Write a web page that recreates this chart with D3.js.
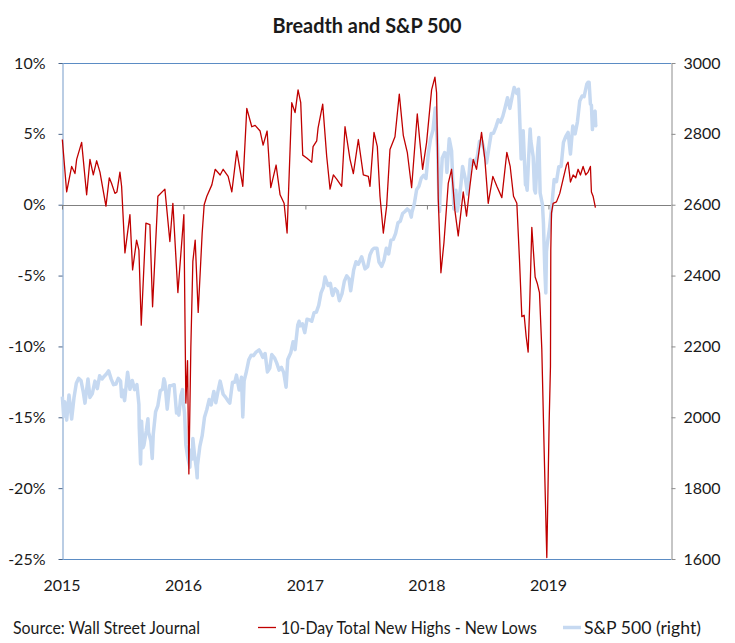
<!DOCTYPE html>
<html>
<head>
<meta charset="utf-8">
<script src="https://cdn.jsdelivr.net/npm/d3@7"></script>
<style>
  html, body { margin: 0; padding: 0; background: #fff; }
  svg { display: block; }
  text { font-family: Lato, "Open Sans", "Liberation Sans", sans-serif; fill: #1a1a1a; }
</style>
</head>
<body>
<svg id="chart" width="735" height="643"></svg>
<script>
// ---------------- DATA ----------------
const title = "Breadth and S&P 500";
const sourceText = "Source: Wall Street Journal";
const seriesNames = ["10-Day Total New Highs - New Lows", "S&P 500 (right)"];
const yearTicks = ["2015", "2016", "2017", "2018", "2019"];
const leftTicks = [-25, -20, -15, -10, -5, 0, 5, 10];            // percent
const rightTicks = [1600, 1800, 2000, 2200, 2400, 2600, 2800, 3000];

// 10-Day Total New Highs - New Lows (percent)
const breadth = [
  ["2015-01-02", 4.6], ["2015-01-15", 0.9], ["2015-01-30", 2.7], ["2015-02-09", 2.2],
  ["2015-02-14", 3.2], ["2015-03-01", 4.4], ["2015-03-16", 0.7], ["2015-03-26", 3.2],
  ["2015-04-05", 2.1], ["2015-04-15", 3.1], ["2015-04-25", 2.3], ["2015-05-13", -0.1],
  ["2015-05-23", 1.9], ["2015-05-30", 1.5], ["2015-06-09", 0.8], ["2015-06-15", 0.9],
  ["2015-06-24", 2.3], ["2015-06-29", 1.3], ["2015-07-09", -3.4], ["2015-07-24", -0.7],
  ["2015-08-01", -4.6], ["2015-08-13", -2.5], ["2015-08-20", -3.2], ["2015-08-27", -8.5],
  ["2015-09-10", -1.3], ["2015-09-22", -1.4], ["2015-09-30", -7.2], ["2015-10-16", 0.6],
  ["2015-11-06", 1.1], ["2015-11-21", -2.6], ["2015-11-30", 0.1], ["2015-12-15", -6.2],
  ["2016-01-02", -0.7], ["2016-01-08", -14.0], ["2016-01-13", -11.0], ["2016-01-17", -19.0],
  ["2016-01-23", -10.0], ["2016-01-29", -4.0], ["2016-02-05", -2.5], ["2016-02-14", -7.6],
  ["2016-02-26", -2.0], ["2016-03-03", 0.0], ["2016-03-11", 0.6], ["2016-03-26", 1.4],
  ["2016-04-05", 2.5], ["2016-04-20", 2.1], ["2016-04-29", 2.5], ["2016-05-14", 2.0],
  ["2016-05-25", 0.9], ["2016-06-09", 3.8], ["2016-06-27", 1.3], ["2016-07-09", 6.8],
  ["2016-07-24", 5.5], ["2016-08-03", 5.6], ["2016-08-18", 5.2], ["2016-08-27", 4.2],
  ["2016-09-08", 5.2], ["2016-09-19", 1.2], ["2016-10-05", 2.8], ["2016-10-17", 0.7],
  ["2016-10-29", 0.1], ["2016-11-07", -2.0], ["2016-11-21", 7.2], ["2016-12-01", 6.5],
  ["2016-12-10", 8.1], ["2016-12-18", 7.2], ["2016-12-24", 3.5], ["2017-01-05", 3.3],
  ["2017-01-20", 3.0], ["2017-01-24", 4.1], ["2017-02-04", 4.5], ["2017-02-08", 5.4],
  ["2017-02-22", 7.1], ["2017-03-06", 3.4], ["2017-03-16", 1.1], ["2017-03-26", 2.1],
  ["2017-04-05", 1.8], ["2017-04-20", 1.3], ["2017-04-30", 5.5], ["2017-05-15", 3.2],
  ["2017-05-25", 2.2], ["2017-06-09", 4.6], ["2017-06-24", 2.1], ["2017-07-09", 2.0],
  ["2017-07-14", 1.3], ["2017-07-26", 5.1], ["2017-08-05", 4.1], ["2017-08-13", 0.6],
  ["2017-08-23", -2.0], ["2017-09-02", -0.1], ["2017-09-12", 3.9], ["2017-09-27", 4.8],
  ["2017-10-10", 7.8], ["2017-10-22", 4.9], ["2017-11-03", 3.7], ["2017-11-16", 1.2],
  ["2017-12-03", 6.4], ["2017-12-11", 4.4], ["2017-12-19", 2.5], ["2017-12-31", 4.4],
  ["2018-01-15", 8.1], ["2018-01-25", 9.0], ["2018-01-30", 7.9], ["2018-02-04", 0.4],
  ["2018-02-12", -4.8], ["2018-02-21", -2.7], ["2018-03-06", 1.5], ["2018-03-16", 2.5],
  ["2018-03-26", -0.4], ["2018-04-05", -2.2], ["2018-04-20", 0.9], ["2018-04-30", -0.8],
  ["2018-05-10", 1.3], ["2018-05-20", 3.2], ["2018-05-30", 2.5], ["2018-06-14", 5.1],
  ["2018-06-24", 3.2], ["2018-07-04", 0.1], ["2018-07-18", 2.0], ["2018-07-30", 1.3],
  ["2018-08-14", 0.5], ["2018-08-29", 3.7], ["2018-09-08", 2.7], ["2018-09-18", 0.6],
  ["2018-09-28", 0.1], ["2018-10-06", -3.9], ["2018-10-10", -6.2], ["2018-10-13", -7.9],
  ["2018-10-20", -7.8], ["2018-10-26", -9.3], ["2018-11-01", -10.4], ["2018-11-06", -6.7],
  ["2018-11-12", -1.6], ["2018-11-22", -5.1], ["2018-11-29", -5.6], ["2018-12-05", -6.2],
  ["2018-12-12", -10.2], ["2018-12-19", -17.3], ["2018-12-27", -24.9], ["2019-01-03", -15.4],
  ["2019-01-07", -11.4], ["2019-01-08", -3.2], ["2019-01-10", -0.6], ["2019-01-15", 0.1],
  ["2019-01-25", 0.2], ["2019-02-04", 0.8], ["2019-02-14", 1.8], ["2019-02-24", 2.8],
  ["2019-03-01", 3.0], ["2019-03-08", 1.6], ["2019-03-16", 2.1], ["2019-03-24", 1.9],
  ["2019-03-31", 2.5], ["2019-04-07", 2.1], ["2019-04-15", 2.7], ["2019-04-23", 2.1],
  ["2019-04-30", 2.3], ["2019-05-07", 2.7], ["2019-05-10", 0.9], ["2019-05-15", 0.6],
  ["2019-05-22", -0.2]
];

// S&P 500 (right axis)
const sp500 = [
  ["2015-01-02", 2058], ["2015-01-06", 2003], ["2015-01-09", 2044], ["2015-01-15", 1992],
  ["2015-01-22", 2063], ["2015-01-30", 1995], ["2015-02-06", 2055], ["2015-02-13", 2096],
  ["2015-02-20", 2110], ["2015-02-27", 2104], ["2015-03-06", 2071], ["2015-03-11", 2040],
  ["2015-03-20", 2108], ["2015-03-26", 2056], ["2015-04-02", 2067], ["2015-04-10", 2102],
  ["2015-04-17", 2081], ["2015-04-24", 2117], ["2015-05-01", 2108], ["2015-05-08", 2116],
  ["2015-05-15", 2123], ["2015-05-21", 2131], ["2015-05-29", 2107], ["2015-06-05", 2092],
  ["2015-06-12", 2094], ["2015-06-19", 2110], ["2015-06-26", 2102], ["2015-06-29", 2058],
  ["2015-07-02", 2077], ["2015-07-08", 2047], ["2015-07-17", 2127], ["2015-07-24", 2079],
  ["2015-07-31", 2104], ["2015-08-07", 2078], ["2015-08-14", 2092], ["2015-08-20", 2036],
  ["2015-08-21", 1971], ["2015-08-25", 1868], ["2015-08-28", 1989], ["2015-09-01", 1914],
  ["2015-09-04", 1921], ["2015-09-11", 1961], ["2015-09-16", 1996], ["2015-09-18", 1958],
  ["2015-09-25", 1932], ["2015-09-29", 1884], ["2015-10-02", 1951], ["2015-10-09", 2015],
  ["2015-10-16", 2033], ["2015-10-23", 2075], ["2015-10-30", 2079], ["2015-11-03", 2109],
  ["2015-11-06", 2099], ["2015-11-13", 2023], ["2015-11-20", 2089], ["2015-11-27", 2090],
  ["2015-12-04", 2092], ["2015-12-11", 2012], ["2015-12-14", 2022], ["2015-12-18", 2006],
  ["2015-12-24", 2061], ["2015-12-29", 2078], ["2015-12-31", 2044],
  ["2016-01-04", 2012], ["2016-01-07", 1943], ["2016-01-08", 1922], ["2016-01-13", 1890],
  ["2016-01-15", 1880], ["2016-01-20", 1859], ["2016-01-22", 1907], ["2016-01-27", 1882],
  ["2016-01-29", 1940], ["2016-02-02", 1903], ["2016-02-05", 1880], ["2016-02-09", 1852],
  ["2016-02-11", 1829], ["2016-02-12", 1865], ["2016-02-19", 1918], ["2016-02-26", 1948],
  ["2016-03-04", 2000], ["2016-03-11", 2022], ["2016-03-18", 2050], ["2016-03-24", 2035],
  ["2016-04-01", 2073], ["2016-04-07", 2041], ["2016-04-15", 2081], ["2016-04-20", 2102],
  ["2016-04-29", 2065], ["2016-05-06", 2057], ["2016-05-13", 2047], ["2016-05-19", 2040],
  ["2016-05-27", 2099], ["2016-06-03", 2099], ["2016-06-08", 2119], ["2016-06-16", 2077],
  ["2016-06-23", 2113], ["2016-06-27", 2001], ["2016-07-01", 2103], ["2016-07-08", 2130],
  ["2016-07-15", 2162], ["2016-07-22", 2175], ["2016-07-29", 2174], ["2016-08-05", 2183],
  ["2016-08-15", 2190], ["2016-08-19", 2184], ["2016-08-26", 2169], ["2016-09-02", 2180],
  ["2016-09-09", 2128], ["2016-09-16", 2139], ["2016-09-22", 2177], ["2016-09-30", 2168],
  ["2016-10-07", 2153], ["2016-10-14", 2133], ["2016-10-21", 2141], ["2016-10-28", 2126],
  ["2016-11-04", 2085], ["2016-11-09", 2163], ["2016-11-18", 2182], ["2016-11-25", 2213],
  ["2016-12-01", 2191], ["2016-12-09", 2260], ["2016-12-13", 2271], ["2016-12-16", 2258],
  ["2016-12-23", 2264], ["2016-12-30", 2239],
  ["2017-01-06", 2277], ["2017-01-13", 2275], ["2017-01-20", 2271], ["2017-01-27", 2295],
  ["2017-02-03", 2297], ["2017-02-10", 2316], ["2017-02-17", 2351], ["2017-02-24", 2367],
  ["2017-03-01", 2396], ["2017-03-10", 2372], ["2017-03-17", 2378], ["2017-03-22", 2349],
  ["2017-03-24", 2344], ["2017-03-31", 2363], ["2017-04-07", 2356], ["2017-04-13", 2329],
  ["2017-04-21", 2349], ["2017-04-28", 2384], ["2017-05-05", 2399], ["2017-05-12", 2391],
  ["2017-05-17", 2357], ["2017-05-26", 2416], ["2017-06-02", 2439], ["2017-06-09", 2432],
  ["2017-06-19", 2453], ["2017-06-29", 2419], ["2017-07-07", 2425], ["2017-07-14", 2459],
  ["2017-07-21", 2473], ["2017-07-26", 2477], ["2017-08-04", 2477], ["2017-08-10", 2438],
  ["2017-08-18", 2426], ["2017-08-25", 2443], ["2017-09-01", 2477], ["2017-09-08", 2461],
  ["2017-09-15", 2500], ["2017-09-22", 2502], ["2017-09-29", 2519], ["2017-10-06", 2549],
  ["2017-10-13", 2553], ["2017-10-20", 2575], ["2017-10-27", 2581], ["2017-11-03", 2588],
  ["2017-11-10", 2582], ["2017-11-15", 2565], ["2017-11-17", 2579], ["2017-11-24", 2602],
  ["2017-12-01", 2642], ["2017-12-08", 2652], ["2017-12-15", 2675], ["2017-12-22", 2683],
  ["2017-12-29", 2674],
  ["2018-01-05", 2743], ["2018-01-12", 2786], ["2018-01-19", 2810], ["2018-01-26", 2873],
  ["2018-02-02", 2762], ["2018-02-05", 2649], ["2018-02-08", 2581], ["2018-02-09", 2620],
  ["2018-02-16", 2732], ["2018-02-23", 2747], ["2018-02-27", 2744], ["2018-03-02", 2691],
  ["2018-03-09", 2786], ["2018-03-16", 2752], ["2018-03-23", 2588], ["2018-03-29", 2641],
  ["2018-04-02", 2582], ["2018-04-06", 2604], ["2018-04-13", 2656], ["2018-04-18", 2708],
  ["2018-04-27", 2670], ["2018-05-03", 2630], ["2018-05-11", 2728], ["2018-05-18", 2713],
  ["2018-05-25", 2721], ["2018-06-01", 2735], ["2018-06-08", 2779], ["2018-06-15", 2780],
  ["2018-06-22", 2755], ["2018-06-29", 2718], ["2018-07-06", 2760], ["2018-07-13", 2801],
  ["2018-07-20", 2802], ["2018-07-27", 2819], ["2018-08-03", 2840], ["2018-08-10", 2833],
  ["2018-08-17", 2850], ["2018-08-24", 2875], ["2018-08-31", 2902], ["2018-09-07", 2872],
  ["2018-09-14", 2905], ["2018-09-20", 2931], ["2018-09-28", 2914], ["2018-10-03", 2926],
  ["2018-10-05", 2885], ["2018-10-11", 2729], ["2018-10-12", 2767], ["2018-10-17", 2809],
  ["2018-10-24", 2656], ["2018-10-26", 2659], ["2018-10-29", 2641], ["2018-11-02", 2723],
  ["2018-11-07", 2814], ["2018-11-09", 2781], ["2018-11-16", 2736], ["2018-11-20", 2642],
  ["2018-11-23", 2633], ["2018-11-30", 2760], ["2018-12-03", 2790], ["2018-12-07", 2633],
  ["2018-12-14", 2600], ["2018-12-17", 2546], ["2018-12-21", 2417], ["2018-12-24", 2351],
  ["2018-12-26", 2468], ["2018-12-28", 2486], ["2018-12-31", 2507],
  ["2019-01-04", 2532], ["2019-01-11", 2596], ["2019-01-18", 2671], ["2019-01-25", 2665],
  ["2019-02-01", 2707], ["2019-02-08", 2708], ["2019-02-15", 2776], ["2019-02-22", 2793],
  ["2019-03-01", 2804], ["2019-03-08", 2743], ["2019-03-15", 2822], ["2019-03-22", 2800],
  ["2019-03-29", 2834], ["2019-04-05", 2893], ["2019-04-12", 2907], ["2019-04-18", 2905],
  ["2019-04-26", 2940], ["2019-04-30", 2946], ["2019-05-03", 2946], ["2019-05-07", 2884],
  ["2019-05-10", 2881], ["2019-05-13", 2812], ["2019-05-17", 2860], ["2019-05-21", 2864],
  ["2019-05-23", 2823], ["2019-05-24", 2826]
];

// ---------------- CHART ----------------
const parse = d3.timeParse("%Y-%m-%d");
const svg = d3.select("#chart");
const m = { left: 62, right: 671, top: 63, bottom: 559 };

const x = d3.scaleTime()
  .domain([parse("2015-01-01"), parse("2020-01-01")])
  .range([m.left, m.right - 1]);
const yL = d3.scaleLinear().domain([-25, 10]).range([m.bottom, m.top]);
const yR = d3.scaleLinear().domain([1600, 3000]).range([m.bottom, m.top]);

// Title
svg.append("text")
  .attr("x", 367).attr("y", 33)
  .attr("text-anchor", "middle")
  .attr("font-size", 21).attr("font-weight", "bold")
  .attr("textLength", 189).attr("lengthAdjust", "spacingAndGlyphs")
  .attr("fill", "#000")
  .text(title);

// Top and bottom frame lines
svg.append("line").attr("x1", m.left).attr("x2", m.right).attr("y1", m.top + 0.5).attr("y2", m.top + 0.5)
  .attr("stroke", "#5b8cc4").attr("stroke-width", 1);
svg.append("line").attr("x1", m.left).attr("x2", m.right).attr("y1", m.bottom + 0.5).attr("y2", m.bottom + 0.5)
  .attr("stroke", "#5b8cc4").attr("stroke-width", 1);

// Left axis
const gL = svg.append("g").attr("transform", `translate(${m.left + 0.5},0)`)
  .call(d3.axisLeft(yL).tickValues(leftTicks).tickFormat(d => d + "%").tickSize(4).tickSizeOuter(0).tickPadding(13));
gL.select(".domain").attr("stroke", "#a3bcdb").attr("stroke-width", 1.5);
gL.selectAll(".tick line").attr("stroke", "#4a6488");
gL.selectAll(".tick text").attr("font-size", 16).attr("fill", "#1a1a1a");

// Right axis
const gR = svg.append("g").attr("transform", `translate(${m.right + 0.5},0)`)
  .call(d3.axisRight(yR).tickValues(rightTicks).tickFormat(d => d).tickSize(4).tickSizeOuter(0).tickPadding(8));
gR.select(".domain").attr("stroke", "#8c8c8c");
gR.selectAll(".tick line").attr("stroke", "#8c8c8c");
gR.selectAll(".tick text").attr("font-size", 16).attr("fill", "#1a1a1a");

// Zero line with year ticks
const yearDates = yearTicks.map(yv => parse(yv + "-01-01"));
const gZ = svg.append("g").attr("transform", `translate(0,${Math.round(yL(0)) + 0.5})`)
  .call(d3.axisBottom(x).tickValues(yearDates).tickFormat("").tickSize(4).tickSizeOuter(0));
gZ.select(".domain").attr("stroke", "#808080").attr("d", `M${m.left},0H${m.right}`);
gZ.selectAll(".tick line").attr("stroke", "#808080");

// Year labels at the bottom
svg.append("g").selectAll("text").data(yearDates).join("text")
  .attr("x", d => x(d)).attr("y", 591)
  .attr("text-anchor", "middle").attr("font-size", 16)
  .text((d, i) => yearTicks[i]);

// Lines
const spLine = d3.line().x(d => x(parse(d[0]))).y(d => yR(d[1]));
const brLine = d3.line().x(d => x(parse(d[0]))).y(d => yL(d[1]));

svg.append("path").datum(sp500).attr("d", spLine)
  .attr("fill", "none").attr("stroke", "#c6d9f1").attr("stroke-width", 3.5)
  .attr("stroke-linejoin", "round");
svg.append("path").datum(breadth).attr("d", brLine)
  .attr("fill", "none").attr("stroke", "#c00000").attr("stroke-width", 1.3)
  .attr("stroke-linejoin", "round");

// Source + legend
svg.append("text").attr("x", 13).attr("y", 634).attr("font-size", 17)
  .attr("textLength", 187).attr("lengthAdjust", "spacingAndGlyphs").text(sourceText);

const legend = svg.append("g");
legend.append("line").attr("x1", 258).attr("x2", 276).attr("y1", 627.5).attr("y2", 627.5)
  .attr("stroke", "#c00000").attr("stroke-width", 1.3);
legend.append("text").attr("x", 281).attr("y", 634).attr("font-size", 17)
  .attr("textLength", 256).attr("lengthAdjust", "spacingAndGlyphs").text(seriesNames[0]);
legend.append("line").attr("x1", 563).attr("x2", 581).attr("y1", 627.5).attr("y2", 627.5)
  .attr("stroke", "#c6d9f1").attr("stroke-width", 3.5);
legend.append("text").attr("x", 584).attr("y", 634).attr("font-size", 17)
  .attr("textLength", 117).attr("lengthAdjust", "spacingAndGlyphs").text(seriesNames[1]);
</script>
</body>
</html>
